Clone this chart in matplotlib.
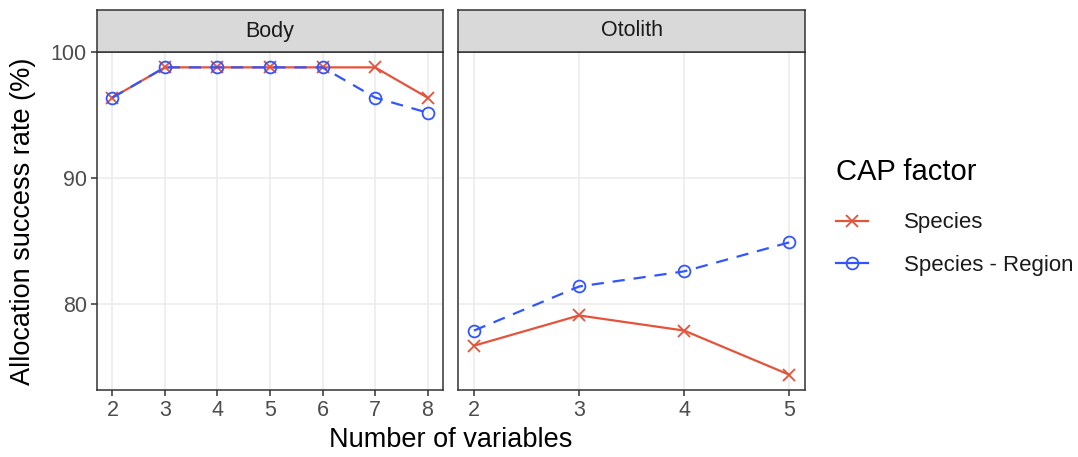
import numpy as np
import matplotlib
matplotlib.use("Agg")
import matplotlib.pyplot as plt
from matplotlib.lines import Line2D

plt.rcParams['font.family'] = ['Liberation Sans', 'DejaVu Sans']

# allocation success (%) by number of variables
body_n = [2, 3, 4, 5, 6, 7, 8]
body_species = [96.4, 98.8, 98.8, 98.8, 98.8, 98.8, 96.4]
body_region = [96.4, 98.8, 98.8, 98.8, 98.8, 96.4, 95.2]

otolith_n = [2, 3, 4, 5]
otolith_species = [76.7, 79.1, 77.9, 74.4]
otolith_region = [77.9, 81.4, 82.6, 84.9]

panels = ["Body", "Otolith"]
series_labels = ["Species", "Species - Region"]
y_ticks = [80, 90, 100]

red = "#E5533A"
blue = "#3355FF"
grid_c = "#EBEBEB"
frame_c = "#333333"
txt_c = "#4D4D4D"

fig = plt.figure(figsize=(10.78, 4.57), dpi=100)

L, B, T = 96.7 / 1078, 1 - 390 / 457, 1 - 52 / 457
W = (443.3 - 96.7) / 1078
gap = 15 / 1078
strip_h = 42 / 457

all_y = body_species + body_region + otolith_species + otolith_region
ymin, ymax = min(all_y), max(all_y)
pad = 0.05 * (ymax - ymin)

data = [
    (body_n, body_species, body_region),
    (otolith_n, otolith_species, otolith_region),
]

for i, (name, (xs, sp, rg)) in enumerate(zip(panels, data)):
    ax = fig.add_axes([L + i * (W + gap), B, W, T - B])
    xpad = 0.05 * (max(xs) - min(xs))
    ax.set_xlim(min(xs) - xpad, max(xs) + xpad)
    ax.set_ylim(ymin - pad, ymax + pad)
    ax.set_xticks(xs)
    ax.set_yticks(y_ticks)
    ax.grid(True, color=grid_c, lw=1.1)
    ax.set_axisbelow(True)
    ax.tick_params(length=4, width=1.1, color=frame_c,
                   labelsize=15.5, labelcolor=txt_c, pad=3)
    for s in ax.spines.values():
        s.set_color(frame_c)
        s.set_linewidth(1.1)
    if i > 0:
        ax.tick_params(axis='y', left=False, labelleft=False)

    ax.plot(xs, sp, color=red, lw=1.6, marker='x', ms=8.5, mew=1.3)
    ax.plot(xs, rg, color=blue, lw=1.6, ls=(0, (5.5, 4)), marker='o', ms=8.5,
            mfc='none', mew=1.3)

    # facet strip
    sax = fig.add_axes([L + i * (W + gap), T, W, strip_h])
    sax.set_facecolor("#D9D9D9")
    sax.set_xticks([])
    sax.set_yticks([])
    for s in sax.spines.values():
        s.set_color(frame_c)
        s.set_linewidth(1.1)
    sax.text(0.5, 0.5, name, ha='center', va='center', fontsize=15.5,
             color="#1A1A1A", transform=sax.transAxes)

fig.text((L + 2 * W + gap + L) / 2, 1 - 440 / 457, "Number of variables",
         ha='center', va='center', fontsize=19.5)
fig.text(23 / 1078, (B + T) / 2, "Allocation success rate (%)", rotation=90,
         ha='center', va='center', fontsize=19.5)

handles = [
    Line2D([], [], color=red, lw=1.6, marker='x', ms=8.5, mew=1.3),
    Line2D([], [], color=blue, lw=1.6, marker='o', ms=8.5, mfc='none', mew=1.3),
]
leg = fig.legend(handles, series_labels, title="CAP factor",
                 loc='upper left', bbox_to_anchor=(836 / 1078, 1 - 158 / 457),
                 frameon=False, fontsize=16, title_fontsize=21,
                 handlelength=1.45, labelspacing=0.95, handletextpad=1.6,
                 borderaxespad=0, borderpad=0)
leg._legend_box.align = "left"
leg._legend_box.sep = 19
for t in leg.get_texts():
    t.set_color("#1A1A1A")

fig.savefig("out.png", dpi=100)
